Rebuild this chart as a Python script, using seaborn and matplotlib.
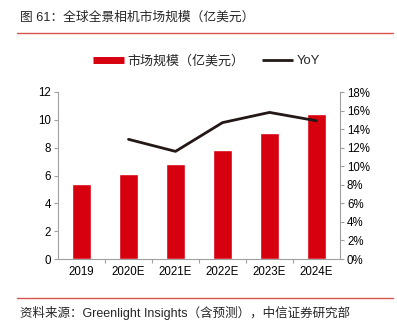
import matplotlib
matplotlib.use("Agg")
import matplotlib.pyplot as plt
import seaborn as sns
import pandas as pd
import numpy as np
from matplotlib.lines import Line2D
from matplotlib.ticker import FuncFormatter, MultipleLocator

sns.set_theme(style="white")
plt.rcParams['font.family'] = ['Liberation Sans', 'Noto Sans CJK SC', 'DejaVu Sans']

categories = ["2019", "2020E", "2021E", "2022E", "2023E", "2024E"]
market_size = [5.4, 6.1, 6.8, 7.8, 9.05, 10.4]
yoy_categories = ["2020E", "2021E", "2022E", "2023E", "2024E"]
yoy = [12.9, 11.6, 14.7, 15.8, 14.9]

bar_name = "市场规模（亿美元）"
line_name = "YoY"
title = "图 61：全球全景相机市场规模（亿美元）"
source = "资料来源：Greenlight Insights（含预测），中信证券研究部"

W, H = 397, 329
fig = plt.figure(figsize=(W / 100, H / 100), dpi=100)
ax = fig.add_axes([58 / W, 1 - 259 / H, (340 - 58) / W, (259 - 92) / H])

red = "#D7000F"
gray = "#A0A0A0"
dark = "#231815"

df = pd.DataFrame({"cat": categories, "val": market_size})
sns.barplot(data=df, x="cat", y="val", order=categories, color=red, width=0.4,
            saturation=1, ax=ax, label=bar_name)
ax.set_xlim(-0.5, len(categories) - 0.5)
ax.set_ylim(0, 12)
ax.yaxis.set_major_locator(MultipleLocator(2))
ax.set_xlabel("")
ax.set_ylabel("")

ax2 = ax.twinx()
pos = [categories.index(c) for c in yoy_categories]
ldf = pd.DataFrame({"x": pos, "y": yoy})
sns.lineplot(data=ldf, x="x", y="y", color=dark, lw=2, ax=ax2, label=line_name)
ax2.set_ylim(0, 18)
ax2.yaxis.set_major_locator(MultipleLocator(2))
ax2.yaxis.set_major_formatter(FuncFormatter(lambda v, p: f"{v:.0f}%"))
ax2.set_xlabel("")
ax2.set_ylabel("")
ax2.set_xlim(-0.5, len(categories) - 0.5)

for a in (ax, ax2):
    for s in a.spines.values():
        s.set_color(gray)
        s.set_linewidth(0.8)
    a.spines["top"].set_visible(False)
ax.spines["right"].set_visible(False)
ax2.spines["left"].set_visible(False)
ax2.spines["bottom"].set_visible(False)

fs = 8.3
ax.tick_params(axis="y", which="both", left=True, length=3, width=0.8, color=gray,
               labelsize=fs, labelcolor="black", pad=2)
ax2.tick_params(axis="y", right=True, length=3, width=0.8, color=gray,
                labelsize=fs, labelcolor="black", pad=2)
ax.tick_params(axis="x", which="major", length=0, labelsize=fs, labelcolor="black", pad=5)
ax.set_xticks(np.arange(len(categories) - 1) + 0.5, minor=True)
ax.tick_params(axis="x", which="minor", bottom=True, length=3, width=0.8, color=gray)

ax.get_legend() and ax.get_legend().remove()
ax2.get_legend() and ax2.get_legend().remove()

handles = [Line2D([0], [0], color=red, lw=5, solid_capstyle="butt"),
           Line2D([0], [0], color=dark, lw=2, solid_capstyle="butt")]
lfs = 9.4
fig.legend(handles, [bar_name, line_name], loc="center left",
           bbox_to_anchor=(93 / W, 1 - 61 / H), borderpad=0, borderaxespad=0,
           ncol=2, frameon=False, fontsize=lfs, handlelength=2.37, columnspacing=1.3,
           handletextpad=0.3)

fig.text(20 / W, 1 - 18 / H, title, fontsize=9.2, va="center", ha="left")
fig.add_artist(Line2D([17 / W, 393 / W], [1 - 33 / H, 1 - 33 / H], color="#D9534F", lw=1))
fig.add_artist(Line2D([17 / W, 393 / W], [1 - 298 / H, 1 - 298 / H], color="#D9534F", lw=1))
fig.text(20 / W, 1 - 313 / H, source, fontsize=9.0, va="center", ha="left")

fig.savefig("out.png", dpi=100)
